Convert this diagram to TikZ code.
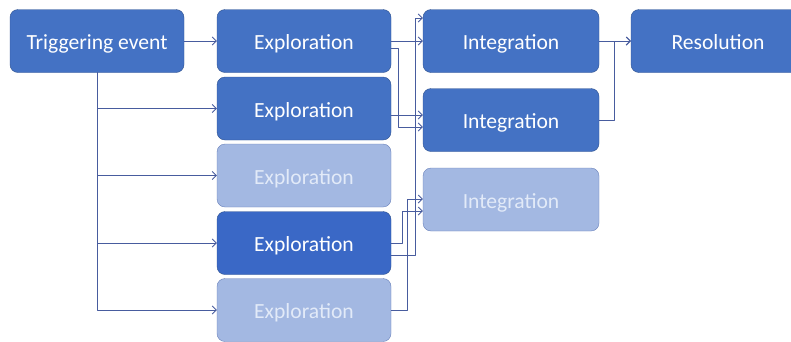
\documentclass[tikz,border=0pt]{standalone}
\usepackage{fontspec}
\setmainfont{Carlito}
\usetikzlibrary{arrows.meta, calc}

\definecolor{boxfill}{RGB}{68,114,196}
\definecolor{boxdeep}{RGB}{58,104,198}
\definecolor{boxedge}{RGB}{47,82,143}
\definecolor{fadedfill}{RGB}{163,184,226}
\definecolor{fadededge}{RGB}{104,128,186}
\definecolor{fadedtext}{RGB}{226,234,248}
\definecolor{linkcol}{RGB}{72,92,158}

\begin{document}
\begin{tikzpicture}[x=1pt, y=-1pt, line join=round, line cap=round,
  box/.style={draw=boxedge, fill=boxfill, rounded corners=8pt, text=white,
    minimum width=174pt, minimum height=63pt, inner sep=0pt,
    text height=20pt, text depth=2.6pt,
    font=\fontsize{21.6}{26}\selectfont},
  faded/.style={box, draw=fadededge, fill=fadedfill, text=fadedtext},
  link/.style={draw=linkcol, line width=0.8pt, -{Straight Barb[length=4pt,width=8pt]}}]
\useasboundingbox (0,0) rectangle (791,341);
\clip (0,0) rectangle (791,341);
\node[box] (trig) at (97,41) {Triggering event};
\node[box] (expA) at (304,41) {Exploration};
\node[box] (expB) at (304,108.5) {Exploration};
\node[faded] (expC) at (304,175.5) {Exploration};
\node[box, fill=boxdeep] (expD) at (304,243) {Exploration};
\node[faded] (expE) at (304,310) {Exploration};
\node[box, minimum width=176pt] (intA) at (511,41) {Integration};
\node[box, minimum width=176pt] (intB) at (511,120) {Integration};
\node[faded, minimum width=176pt] (intC) at (511,199.5) {Integration};
\node[box] (res) at (718,41) {Resolution};
% trigger fans out to every exploration
\draw[link] (trig) -- (expA);
\draw[link] (trig.south) |- (expB.west);
\draw[link] (trig.south) |- (expC.west);
\draw[link] (trig.south) |- (expD.west);
\draw[link] (trig.south) |- (expE.west);
% explorations feed the integrations
\draw[link] (expA) -- (intA);
\draw[link] ($(expA.east)+(0,7)$) -- ++(7,0) |- ($(intB.west)+(0,7)$);
\draw[link] ($(expB.east)+(0,6.5)$) -- ($(intB.west)+(0,-5)$);
\draw[link] ($(expD.east)+(0,12)$) -- ++(24,0) |- ($(intA.west)+(0,-23)$);
\draw[link] (expD.east) -- ++(11,0) |- ($(intC.west)+(0,11.5)$);
\draw[link] (expE.east) -- ++(16,0) |- ($(intC.west)+(0,-0.5)$);
% integrations meet at the resolution
\draw[link] (intA) -- (res);
\draw[link] (intB.east) -- ++(15,0) |- (res.west);
\end{tikzpicture}
\end{document}
